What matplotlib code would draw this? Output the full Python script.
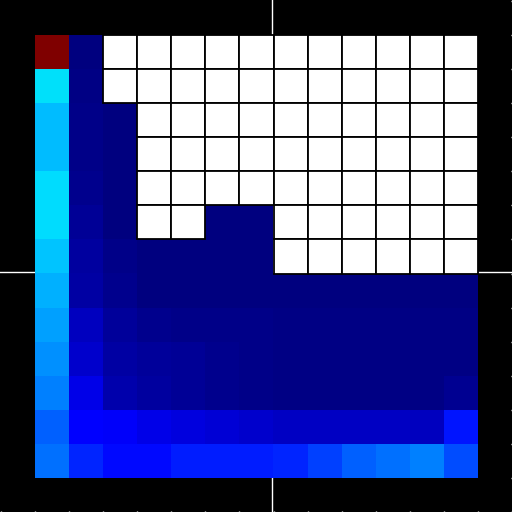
import numpy as np
import matplotlib
matplotlib.use('Agg')
import matplotlib.pyplot as plt
from matplotlib.patches import Rectangle

nan = np.nan

# values on a 0..1 scale (nan = empty white cell)
row0 = [1.000, 0.000, nan, nan, nan, nan, nan, nan, nan, nan, nan, nan, nan]
row1 = [0.345, 0.005, nan, nan, nan, nan, nan, nan, nan, nan, nan, nan, nan]
row2 = [0.310, 0.008, 0.000, nan, nan, nan, nan, nan, nan, nan, nan, nan, nan]
row3 = [0.310, 0.010, 0.000, nan, nan, nan, nan, nan, nan, nan, nan, nan, nan]
row4 = [0.340, 0.014, 0.000, nan, nan, nan, nan, nan, nan, nan, nan, nan, nan]
row5 = [0.340, 0.022, 0.002, nan, nan, 0.000, 0.000, nan, nan, nan, nan, nan, nan]
row6 = [0.317, 0.028, 0.009, 0.000, 0.000, 0.000, 0.000, nan, nan, nan, nan, nan, nan]
row7 = [0.297, 0.035, 0.014, 0.002, 0.002, 0.002, 0.002, 0.002, 0.002, 0.002, 0.002, 0.002, 0.002]
row8 = [0.285, 0.055, 0.024, 0.014, 0.010, 0.010, 0.008, 0.004, 0.004, 0.004, 0.004, 0.004, 0.004]
row9 = [0.266, 0.070, 0.035, 0.024, 0.021, 0.014, 0.010, 0.006, 0.006, 0.006, 0.006, 0.006, 0.006]
row10 = [0.250, 0.090, 0.041, 0.028, 0.021, 0.014, 0.010, 0.005, 0.005, 0.005, 0.005, 0.005, 0.018]
row11 = [0.219, 0.115, 0.107, 0.090, 0.083, 0.076, 0.070, 0.060, 0.060, 0.060, 0.060, 0.058, 0.148]
row12 = [0.235, 0.164, 0.133, 0.133, 0.156, 0.156, 0.156, 0.164, 0.188, 0.219, 0.235, 0.250, 0.203]

data = np.array([row0, row1, row2, row3, row4, row5, row6,
                 row7, row8, row9, row10, row11, row12])
nrow, ncol = data.shape

fig = plt.figure(figsize=(5.12, 5.12), dpi=100, facecolor='black')
ax = fig.add_axes([0, 0, 1, 1])
ax.set_facecolor('black')

# crosshair lines behind the grid
ax.axvline(6.95, color='white', lw=1, zorder=0)
ax.axhline(6.95, color='white', lw=1, zorder=0)

cmap = plt.get_cmap('jet').copy()
cmap.set_bad('white')
ax.imshow(data, cmap=cmap, vmin=0, vmax=1, interpolation='nearest',
          extent=(0, ncol, nrow, 0), zorder=1)

# empty cells: white with black borders
for r, c in np.argwhere(np.isnan(data)):
    ax.add_patch(Rectangle((c, r), 1, 1, facecolor='white',
                           edgecolor='black', lw=1.3, zorder=2))

ax.set_xlim(-1.03, ncol + 1)
ax.set_ylim(nrow + 1, -1.03)
ax.set_aspect('auto')

ax.set_xticks(np.arange(-1, ncol + 2))
ax.set_yticks(np.arange(-1, nrow + 2))
ax.tick_params(direction='in', length=1, color='white', width=1,
               labelbottom=False, labelleft=False,
               bottom=True, right=True, left=False, top=False)
for s in ax.spines.values():
    s.set_visible(False)

fig.savefig('out.png', dpi=100, facecolor='black')
